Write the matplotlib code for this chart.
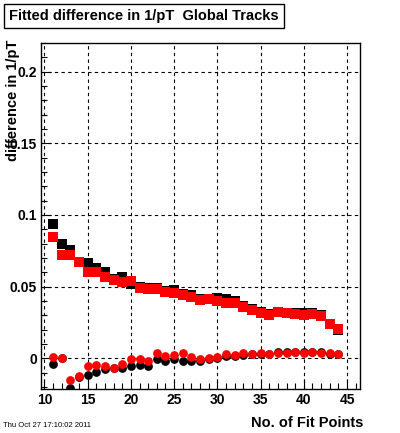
import matplotlib.pyplot as plt
from matplotlib.ticker import MultipleLocator

plt.rcParams['font.family'] = ['Liberation Sans', 'DejaVu Sans']

fit_points = list(range(11, 45))

# fitted difference, squares
sq_black = [0.0938, 0.0798, 0.0756, 0.0672, 0.0663, 0.0628, 0.0600, 0.0552, 0.0566, 0.0519,
            0.0500, 0.0490, 0.0492, 0.0470, 0.0475, 0.0448, 0.0440, 0.0413, 0.0414, 0.0424,
            0.0412, 0.0398, 0.0368, 0.0346, 0.0323, 0.0309, 0.0320, 0.0316, 0.0314, 0.0314,
            0.0316, 0.0305, 0.0240, 0.0195]
sq_red = [0.0847, 0.0721, 0.0721, 0.0670, 0.0603, 0.0603, 0.0566, 0.0547, 0.0533, 0.0540,
          0.0489, 0.0487, 0.0487, 0.0463, 0.0454, 0.0440, 0.0426, 0.0405, 0.0412, 0.0398,
          0.0384, 0.0384, 0.0360, 0.0337, 0.0314, 0.0302, 0.0320, 0.0314, 0.0309, 0.0305,
          0.0307, 0.0295, 0.0237, 0.0202]

# circles
ci_black = [-0.0042, 0.0000, -0.0205, -0.0130, -0.0117, -0.0094, -0.0077, -0.0070, -0.0066, -0.0052,
            -0.0045, -0.0052, -0.0002, -0.0016, -0.0002, -0.0021, -0.0016, -0.0021, -0.0007, 0.0005,
            0.0016, 0.0016, 0.0026, 0.0030, 0.0028, 0.0030, 0.0042, 0.0047, 0.0042, 0.0044,
            0.0047, 0.0044, 0.0033, 0.0028]
ci_red = [0.0007, 0.0000, -0.0152, -0.0126, -0.0054, -0.0047, -0.0054, -0.0066, -0.0040, -0.0005,
          -0.0007, -0.0016, 0.0035, 0.0016, 0.0023, 0.0035, 0.0007, -0.0007, 0.0000, 0.0007,
          0.0028, 0.0021, 0.0035, 0.0030, 0.0035, 0.0033, 0.0040, 0.0037, 0.0044, 0.0040,
          0.0042, 0.0040, 0.0035, 0.0030]

fig = plt.figure(figsize=(4.0, 4.33), dpi=100)
ax = fig.add_axes([0.1025, 0.1016, 0.7975, 0.7991])

ax.plot(fit_points, sq_black, 's', color='black', ms=6.5, mew=0, zorder=3)
ax.plot(fit_points, ci_black, 'o', color='black', ms=6.3, mew=0, zorder=3)
ax.plot(fit_points, sq_red, 's', color='red', ms=6.5, mew=0, zorder=4)
ax.plot(fit_points, ci_red, 'o', color='red', ms=6.3, mew=0, zorder=4)

ax.set_xlim(9.6, 46.5)
ax.set_ylim(-0.0214, 0.22)
ax.xaxis.set_minor_locator(MultipleLocator(1))
ax.yaxis.set_minor_locator(MultipleLocator(0.01))
ax.set_xticks([10, 15, 20, 25, 30, 35, 40, 45])
ax.set_xticklabels(['10', '15', '20', '25', '30', '35', '40', '45'])
ax.set_yticks([0, 0.05, 0.1, 0.15, 0.2])
ax.set_yticklabels(['0', '0.05', '0.1', '0.15', '0.2'])
ax.tick_params(which='both', direction='in', top=False, right=False, labelsize=10)
ax.tick_params(which='major', length=7, width=0.8, pad=3)
ax.tick_params(which='minor', length=4, width=0.8)
for lab in ax.get_xticklabels() + ax.get_yticklabels():
    lab.set_fontweight('bold')
ax.grid(True, which='major', color='black', linestyle=(0, (3, 3)), linewidth=0.8)
for s in ax.spines.values():
    s.set_linewidth(1.0)

fig.text(0.0325, 0.908, 'difference in 1/pT', rotation=90, ha='center', va='top',
         fontsize=10.5, fontweight='bold')
fig.text(0.9075, 0.024, 'No. of Fit Points', ha='right', va='center',
         fontsize=10.5, fontweight='bold')
fig.text(0.0075, 0.018, 'Thu Oct 27 17:10:02 2011', ha='left', va='center', fontsize=5.5)
fig.text(0.36, 0.963, 'Fitted difference in 1/pT  Global Tracks', ha='center', va='center',
         fontsize=10.5, fontweight='bold',
         bbox=dict(boxstyle='square,pad=0.35', fc='white', ec='black', lw=1.0))

fig.savefig('out.png', dpi=100)
